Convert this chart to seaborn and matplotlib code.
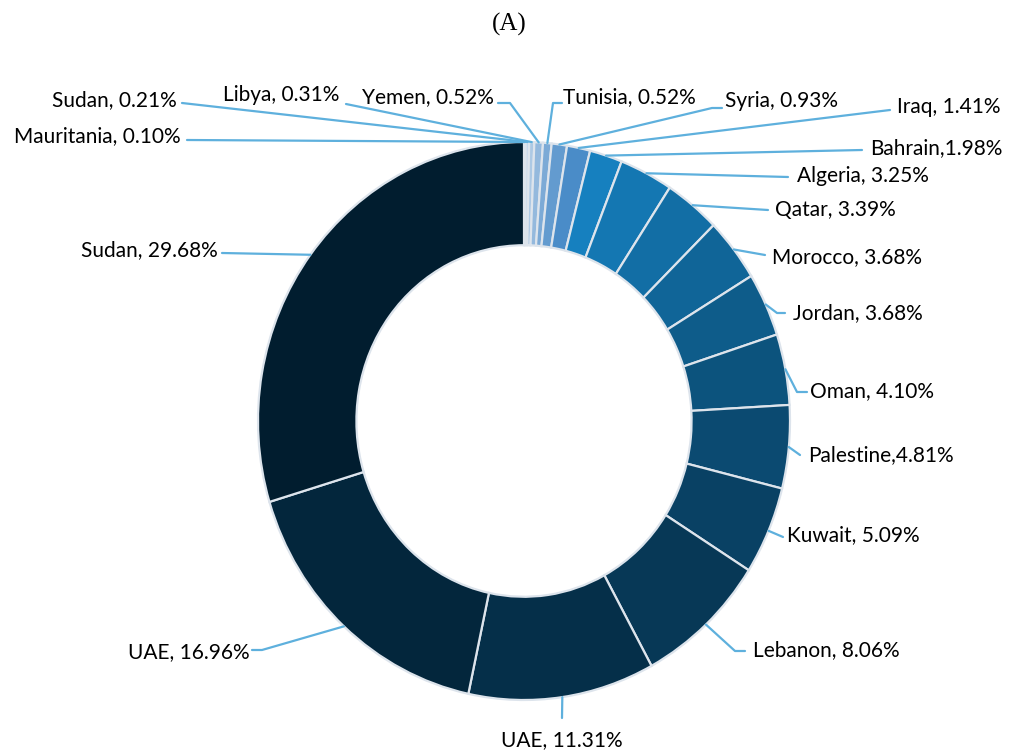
import numpy as np
import matplotlib
matplotlib.use("Agg")
import matplotlib.pyplot as plt
import seaborn as sns

# Share of each country, ordered clockwise from 12 o'clock
countries = ["Mauritania", "Sudan", "Libya", "Yemen", "Tunisia", "Syria", "Iraq",
             "Bahrain", "Algeria", "Qatar", "Morocco", "Jordan", "Oman", "Palestine",
             "Kuwait", "Lebanon", "UAE", "UAE", "Sudan"]
shares = [0.10, 0.21, 0.31, 0.52, 0.52, 0.93, 1.41, 1.98, 3.25, 3.39, 3.68, 3.68,
          4.10, 4.81, 5.09, 8.06, 11.31, 16.96, 29.68]
separators = [", ", ", ", ", ", ", ", ", ", ", ", ", ", ",", ", ", ", ", ", ", ", ",
              ", ", ",", ", ", ", ", ", ", ", ", ", "]

sns.set_theme(style="white")
plt.rcParams["font.family"] = ["Lato", "DejaVu Sans"]

# light-to-dark blue ramp, following the slice order
palette = (sns.blend_palette(["#dfe7f2", "#4a8cc8"], 7)
           + sns.blend_palette(["#1680bf", "#011d2f"], 12))

W, H = 1016, 754
CX, CY, RX, RY = 524, 421, 266, 279   # donut centre and radii in pixels


def to_data(px, py):
    return (px - CX) / RX, (CY - py) / RY


fig = plt.figure(figsize=(W / 100, H / 100), dpi=100)
ax = fig.add_axes([0, 0, 1, 1])

wedges, _ = ax.pie(shares, colors=palette, startangle=90, counterclock=False,
                   radius=1.0, wedgeprops=dict(width=0.37, edgecolor="#dde4ec",
                                               linewidth=1.6))
ax.set_aspect("auto")
ax.set_xlim(to_data(0, 0)[0], to_data(W, 0)[0])
ax.set_ylim(to_data(0, H)[1], to_data(0, 0)[1])
ax.axis("off")

# label layout: text anchor (px), alignment, leader start (px), knee length (px)
layout = [
    ((181, 136), "right", (187, 140), 0),
    ((177, 100), "right", (182, 103), 0),
    ((339, 95), "right", (346, 104), 0),
    ((494, 97), "right", (498, 103), 12),
    ((563, 97), "left", (562, 103), 9),
    ((725, 101), "left", (722, 108), 10),
    ((897, 107), "left", (890, 110), 0),
    ((870, 148), "left", (862, 150), 0),
    ((797, 176), "left", (788, 177), 0),
    ((775, 210), "left", (768, 210), 0),
    ((772, 257), "left", (765, 255), 0),
    ((793, 313), "left", (785, 313), 8),
    ((810, 391), "left", (807, 392), 10),
    ((808, 455), "left", (800, 455), 0),
    ((787, 535), "left", (783, 537), 0),
    ((753, 650), "left", (745, 651), 10),
    ((562, 740), "center", (562, 718), 0),
    ((250, 652), "right", (252, 650), 10),
    ((218, 250), "right", (222, 253), 0),
]

line_color = "#5eb0dd"
for w, name, val, sep, (tpos, ha, start, knee) in zip(
        wedges, countries, shares, separators, layout):
    mid = np.deg2rad((w.theta1 + w.theta2) / 2)
    ex, ey = np.cos(mid), np.sin(mid)
    sx, sy = start
    pts = [to_data(sx, sy)]
    if knee:
        direction = -1 if ha == "left" else 1
        pts.append(to_data(sx + direction * knee, sy))
    pts.append((ex, ey))
    xs, ys = zip(*pts)
    ax.plot(xs, ys, color=line_color, lw=1.6, solid_capstyle="round", zorder=1)
    tx, ty = to_data(*tpos)
    ax.text(tx, ty, f"{name}{sep}{val:.2f}%", ha=ha, va="center",
            fontsize=15, color="#000000")

fig.text(509 / W, 1 - 24 / H, "(A)", ha="center", va="center",
         fontsize=18, family="Liberation Serif", color="#000000")

fig.savefig("out.png", dpi=100, facecolor="white")
